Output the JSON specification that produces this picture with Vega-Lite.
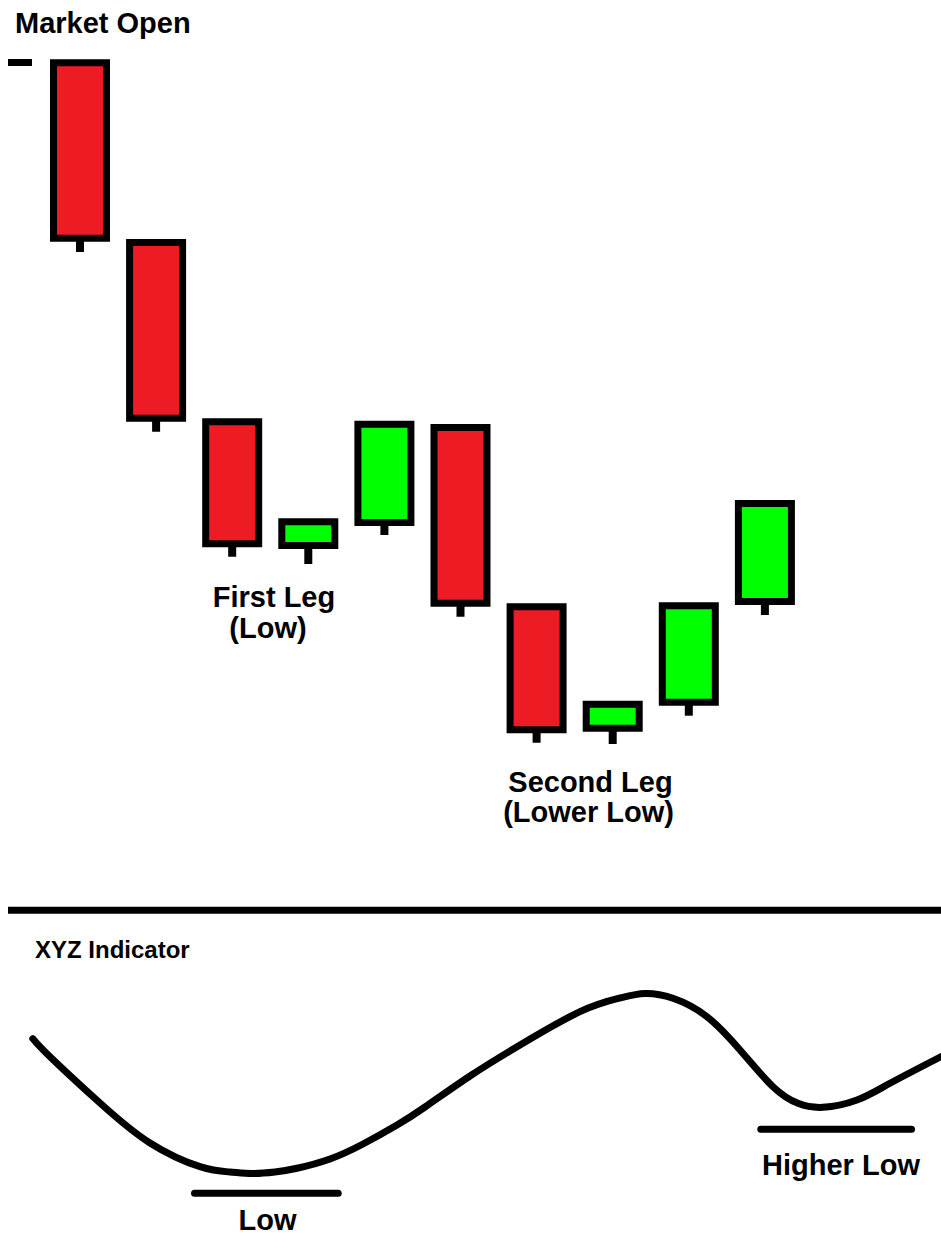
{
  "$schema": "https://vega.github.io/schema/vega-lite/v6.json",
  "width": 941,
  "height": 1236,
  "autosize": {"type": "none"},
  "padding": 0,
  "background": "white",
  "config": {"view": {"stroke": null}, "scale": {"continuousPadding": 0}},
  "datasets": {
    "candles": [
      {"t": 1, "open": 117.32, "close": 99.78, "low": 98.4, "dir": "down"},
      {"t": 2, "open": 99.35, "close": 81.78, "low": 80.43, "dir": "down"},
      {"t": 3, "open": 81.42, "close": 69.22, "low": 67.93, "dir": "down"},
      {"t": 4, "open": 69.05, "close": 71.42, "low": 67.2, "dir": "up"},
      {"t": 5, "open": 71.35, "close": 81.18, "low": 70.1, "dir": "up"},
      {"t": 6, "open": 80.85, "close": 63.28, "low": 61.93, "dir": "down"},
      {"t": 7, "open": 62.92, "close": 50.62, "low": 49.33, "dir": "down"},
      {"t": 8, "open": 50.78, "close": 53.18, "low": 49.2, "dir": "up"},
      {"t": 9, "open": 53.38, "close": 63.02, "low": 52.03, "dir": "up"},
      {"t": 10, "open": 63.45, "close": 73.25, "low": 62.1, "dir": "up"}
    ],
    "guides": [
      {"t": 0.054, "t2": 0.369, "price": 117.35},
      {"t": 0.054, "t2": 12.314, "price": 32.57}
    ],
    "priceLabelsLeft": [
      {"t": 0.146, "price": 120.27, "label": "Market Open"}
    ],
    "priceLabels": [
      {"t": 3.549, "price": 62.87, "label": "First Leg"},
      {"t": 3.47, "price": 59.82, "label": "(Low)"},
      {"t": 7.708, "price": 44.43, "label": "Second Leg"},
      {"t": 7.682, "price": 41.38, "label": "(Lower Low)"}
    ],
    "indicator": [
      {"t": 0.38, "osc": 65.8},
      {"t": 0.606, "osc": 59.77},
      {"t": 1.263, "osc": 44.33},
      {"t": 1.92, "osc": 31.0},
      {"t": 2.577, "osc": 23.1},
      {"t": 2.971, "osc": 21.33},
      {"t": 3.26, "osc": 20.83},
      {"t": 3.562, "osc": 21.33},
      {"t": 3.851, "osc": 22.57},
      {"t": 4.285, "osc": 25.67},
      {"t": 4.719, "osc": 30.67},
      {"t": 5.166, "osc": 37.0},
      {"t": 5.534, "osc": 43.0},
      {"t": 6.125, "osc": 53.33},
      {"t": 6.782, "osc": 63.67},
      {"t": 7.57, "osc": 74.77},
      {"t": 8.096, "osc": 79.33},
      {"t": 8.424, "osc": 80.83},
      {"t": 8.792, "osc": 79.23},
      {"t": 9.239, "osc": 73.1},
      {"t": 9.673, "osc": 62.0},
      {"t": 10.106, "osc": 49.77},
      {"t": 10.435, "osc": 44.23},
      {"t": 10.763, "osc": 42.9},
      {"t": 11.21, "osc": 45.33},
      {"t": 11.644, "osc": 50.9},
      {"t": 12.314, "osc": 59.77}
    ],
    "levels": [
      {"t": 2.505, "t2": 4.393, "osc": 14.23},
      {"t": 9.946, "t2": 11.927, "osc": 35.57}
    ],
    "oscLabelsLeft": [
      {"t": 0.409, "osc": 92.77, "label": "XYZ Indicator"}
    ],
    "oscLabels": [
      {"t": 3.464, "osc": 2.0, "label": "Low"},
      {"t": 11.0, "osc": 20.33, "label": "Higher Low"}
    ]
  },
  "layer": [
    {
      "layer": [
        {
          "data": {"name": "guides"},
          "mark": {"type": "rule", "color": "black", "strokeWidth": 7},
          "encoding": {
            "x": {"field": "t", "type": "quantitative", "scale": {"domain": [-0.0512, 12.314], "nice": false, "zero": false, "padding": 0}, "axis": null},
            "x2": {"field": "t2"},
            "y": {"field": "price", "type": "quantitative", "scale": {"domain": [0, 123.6], "nice": false, "zero": false, "padding": 0}, "axis": null}
          }
        },
        {
          "data": {"name": "candles"},
          "mark": {"type": "rule", "color": "black", "strokeWidth": 8},
          "encoding": {
            "x": {"field": "t", "type": "quantitative", "scale": {"domain": [-0.0512, 12.314], "nice": false, "zero": false, "padding": 0}, "axis": null},
            "y": {"field": "low", "type": "quantitative", "scale": {"domain": [0, 123.6], "nice": false, "zero": false, "padding": 0}, "axis": null},
            "y2": {"field": "open"}
          }
        },
        {
          "data": {"name": "candles"},
          "mark": {"type": "bar", "size": 53, "stroke": "black", "strokeWidth": 7, "strokeJoin": "miter", "opacity": 1},
          "encoding": {
            "x": {"field": "t", "type": "quantitative", "scale": {"domain": [-0.0512, 12.314], "nice": false, "zero": false, "padding": 0}, "axis": null},
            "y": {"field": "open", "type": "quantitative", "scale": {"domain": [0, 123.6], "nice": false, "zero": false, "padding": 0}, "axis": null},
            "y2": {"field": "close"},
            "color": {"field": "dir", "type": "nominal", "scale": {"domain": ["down", "up"], "range": ["#ED1C24", "#00FF00"]}, "legend": null}
          }
        },
        {
          "data": {"name": "priceLabelsLeft"},
          "mark": {"type": "text", "align": "left", "baseline": "alphabetic", "font": "Liberation Sans", "fontWeight": "bold", "fontSize": 29, "color": "black"},
          "encoding": {
            "x": {"field": "t", "type": "quantitative", "scale": {"domain": [-0.0512, 12.314], "nice": false, "zero": false, "padding": 0}, "axis": null},
            "y": {"field": "price", "type": "quantitative", "scale": {"domain": [0, 123.6], "nice": false, "zero": false, "padding": 0}, "axis": null},
            "text": {"field": "label"}
          }
        },
        {
          "data": {"name": "priceLabels"},
          "mark": {"type": "text", "align": "center", "baseline": "alphabetic", "font": "Liberation Sans", "fontWeight": "bold", "fontSize": 29, "color": "black"},
          "encoding": {
            "x": {"field": "t", "type": "quantitative", "scale": {"domain": [-0.0512, 12.314], "nice": false, "zero": false, "padding": 0}, "axis": null},
            "y": {"field": "price", "type": "quantitative", "scale": {"domain": [0, 123.6], "nice": false, "zero": false, "padding": 0}, "axis": null},
            "text": {"field": "label"}
          }
        }
      ]
    },
    {
      "layer": [
        {
          "data": {"name": "indicator"},
          "mark": {"type": "line", "color": "black", "strokeWidth": 7, "interpolate": "natural", "strokeCap": "round"},
          "encoding": {
            "x": {"field": "t", "type": "quantitative", "scale": {"domain": [-0.0512, 12.314], "nice": false, "zero": false, "padding": 0}, "axis": null},
            "y": {"field": "osc", "type": "quantitative", "scale": {"domain": [0, 412], "nice": false, "zero": false, "padding": 0}, "axis": null}
          }
        },
        {
          "data": {"name": "levels"},
          "mark": {"type": "rule", "color": "black", "strokeWidth": 7, "strokeCap": "round"},
          "encoding": {
            "x": {"field": "t", "type": "quantitative", "scale": {"domain": [-0.0512, 12.314], "nice": false, "zero": false, "padding": 0}, "axis": null},
            "x2": {"field": "t2"},
            "y": {"field": "osc", "type": "quantitative", "scale": {"domain": [0, 412], "nice": false, "zero": false, "padding": 0}, "axis": null}
          }
        },
        {
          "data": {"name": "oscLabelsLeft"},
          "mark": {"type": "text", "align": "left", "baseline": "alphabetic", "font": "Liberation Sans", "fontWeight": "bold", "fontSize": 24, "color": "black"},
          "encoding": {
            "x": {"field": "t", "type": "quantitative", "scale": {"domain": [-0.0512, 12.314], "nice": false, "zero": false, "padding": 0}, "axis": null},
            "y": {"field": "osc", "type": "quantitative", "scale": {"domain": [0, 412], "nice": false, "zero": false, "padding": 0}, "axis": null},
            "text": {"field": "label"}
          }
        },
        {
          "data": {"name": "oscLabels"},
          "mark": {"type": "text", "align": "center", "baseline": "alphabetic", "font": "Liberation Sans", "fontWeight": "bold", "fontSize": 29, "color": "black"},
          "encoding": {
            "x": {"field": "t", "type": "quantitative", "scale": {"domain": [-0.0512, 12.314], "nice": false, "zero": false, "padding": 0}, "axis": null},
            "y": {"field": "osc", "type": "quantitative", "scale": {"domain": [0, 412], "nice": false, "zero": false, "padding": 0}, "axis": null},
            "text": {"field": "label"}
          }
        }
      ],
      "resolve": {"scale": {"y": "shared"}}
    }
  ],
  "resolve": {"scale": {"y": "independent"}}
}
